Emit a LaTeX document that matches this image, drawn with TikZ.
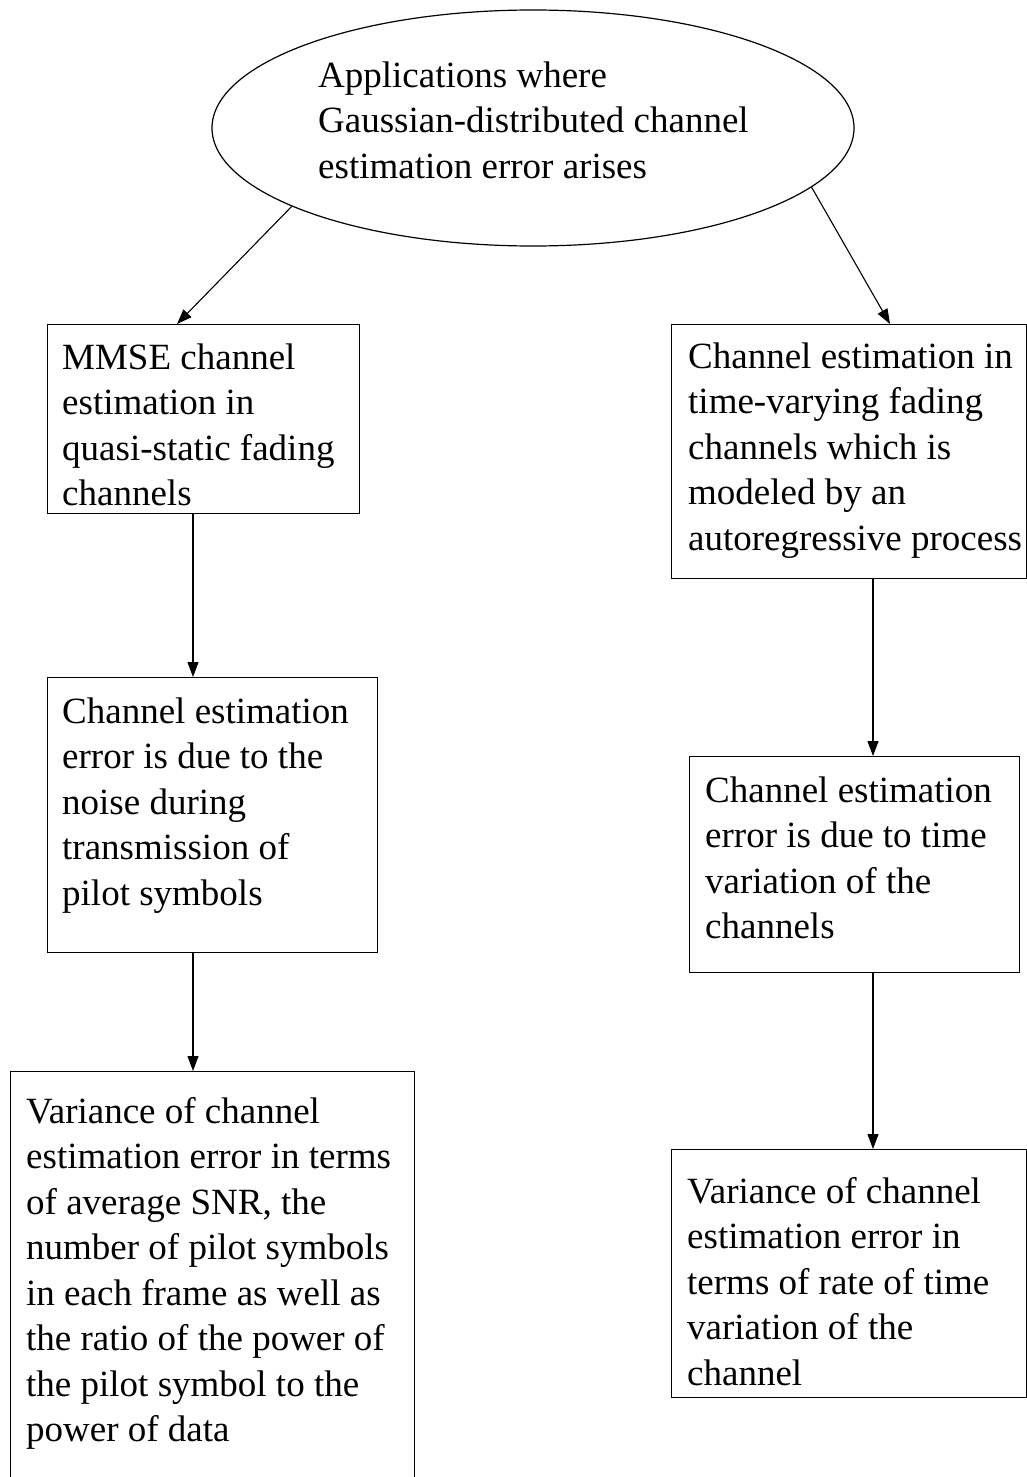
\documentclass[tikz,border=0pt]{standalone}
\usepackage{fontspec}
\setmainfont{Liberation Serif}
\usetikzlibrary{shapes.geometric,arrows.meta}
\tikzset{
  box/.style={draw, line width=1.2pt, rectangle, inner sep=0pt, anchor=north west},
  oval/.style={draw, line width=1.2pt, ellipse, inner sep=0pt},
  txt/.style={anchor=north west, inner sep=0pt, align=left,
              font=\fontsize{37}{45.5}\selectfont},
  arr/.style={line width=1.1pt, -{Triangle[length=15pt,width=11pt]}},
}
\begin{document}
\begin{tikzpicture}[x=1pt,y=-1pt]
\useasboundingbox (0,0) rectangle (1027,1477);

% top ellipse
\node[oval, minimum width=642pt, minimum height=236pt] (ell) at (533,128) {};
\node[txt] (ellt) at (318,55) {\strut Applications where\\Gaussian-distributed channel\\estimation error arises};

% left column
\node[box, minimum width=312pt, minimum height=189pt] (b1) at (47,324) {};
\node[txt] (b1t) at (62,337) {\strut MMSE channel\\estimation in\\quasi-static fading\\channels};

\node[box, minimum width=330pt, minimum height=275pt] (b3) at (47,677) {};
\node[txt] (b3t) at (62,691) {\strut Channel estimation\\error is due to the\\noise during\\transmission of\\pilot symbols};

\node[box, minimum width=404pt, minimum height=440pt] (b5) at (10,1071) {};
\node[txt] (b5t) at (26,1091) {\strut Variance of channel\\estimation error in terms\\of average SNR, the\\number of pilot symbols\\in each frame as well as\\the ratio of the power of\\the pilot symbol to the\\power of data};

% right column
\node[box, minimum width=355pt, minimum height=254pt] (b2) at (671,324) {};
\node[txt] (b2t) at (688,336) {\strut Channel estimation in\\time-varying fading\\channels which is\\modeled by an\\autoregressive process};

\node[box, minimum width=330pt, minimum height=216pt] (b4) at (689,756) {};
\node[txt] (b4t) at (705,770) {\strut Channel estimation\\error is due to time\\variation of the\\channels};

\node[box, minimum width=355pt, minimum height=248pt] (b6) at (671,1149) {};
\node[txt] (b6t) at (687,1171) {\strut Variance of channel\\estimation error in\\terms of rate of time\\variation of the\\channel};

% connectors
\draw[arr] (ell.198.7) -- ([xshift=130pt]b1.north west);
\draw[arr] (ell.348.5) -- ([xshift=219pt]b2.north west);
\draw[arr] ([xshift=146pt]b1.south west) -- ([xshift=146pt]b3.north west);
\draw[arr] ([xshift=146pt]b3.south west) -- ([xshift=183pt]b5.north west);
\draw[arr] ([xshift=202pt]b2.south west) -- ([xshift=184pt]b4.north west);
\draw[arr] ([xshift=184pt]b4.south west) -- ([xshift=202pt]b6.north west);
\end{tikzpicture}
\end{document}
